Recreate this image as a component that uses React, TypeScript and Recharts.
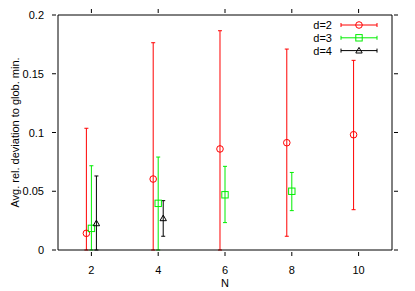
import React from 'react';
import { ComposedChart, Scatter, XAxis, YAxis, ErrorBar } from 'recharts';

const nValues = [2, 4, 6, 8, 10];
const xTicks = [2, 4, 6, 8, 10];
const yTicks = [0, 0.05, 0.1, 0.15, 0.2];
const yTickLabels = ['0', '0.05', '0.1', '0.15', '0.2'];

const d2Mean = [0.0142, 0.0604, 0.086, 0.0913, 0.0981];
const d2Low = [0, 0, 0, 0.0117, 0.0343];
const d2High = [0.1036, 0.1764, 0.1866, 0.171, 0.1614];

const d3N = [2, 4, 6, 8];
const d3Mean = [0.0184, 0.0397, 0.047, 0.05];
const d3Low = [0, 0, 0.0233, 0.0335];
const d3High = [0.0717, 0.0791, 0.0712, 0.066];

const d4N = [2, 4];
const d4Mean = [0.0227, 0.027];
const d4Low = [0, 0.0117];
const d4High = [0.063, 0.042];

const seriesNames = ['d=2', 'd=3', 'd=4'];
const RED = '#ff0000';
const GREEN = '#00ee00';
const BLACK = '#000000';
const FONT = 'Liberation Sans, Arial, Helvetica, sans-serif';

const build = (ns: number[], mean: number[], low: number[], high: number[], off: number) =>
  ns.map((n, i) => ({ x: n + off, y: mean[i], err: [mean[i] - low[i], high[i] - mean[i]] }));

const d2Data = build(nValues, d2Mean, d2Low, d2High, -0.15);
const d3Data = build(d3N, d3Mean, d3Low, d3High, 0);
const d4Data = build(d4N, d4Mean, d4Low, d4High, 0.15);

const CircleShape = (p: any) => (
  <circle cx={p.cx} cy={p.cy} r={3.3} fill="none" stroke={RED} strokeWidth={1} />
);
const SquareShape = (p: any) => (
  <rect x={p.cx - 3.2} y={p.cy - 3.2} width={6.4} height={6.4} fill="none" stroke={GREEN} strokeWidth={1} />
);
const TriShape = (p: any) => (
  <path d={`M${p.cx - 3.2},${p.cy + 2.4} L${p.cx + 3.2},${p.cy + 2.4} L${p.cx},${p.cy - 3.2} Z`} fill="none" stroke={BLACK} strokeWidth={1} />
);

const BottomTick = (p: any) => (
  <g>
    <line x1={p.x} x2={p.x} y1={p.y} y2={p.y - 4} stroke="#000" />
    <text x={p.x} y={p.y + 18} textAnchor="middle" fontSize={11} fontFamily={FONT} fill="#000">
      {p.payload.value}
    </text>
  </g>
);
const TopTick = (p: any) => (
  <line x1={p.x} x2={p.x} y1={p.y} y2={p.y + 4} stroke="#000" />
);
const LeftTick = (p: any) => {
  const idx = yTicks.indexOf(p.payload.value);
  return (
    <g>
      <line x1={p.x} x2={p.x + 4} y1={p.y} y2={p.y} stroke="#000" />
      <text x={p.x - 8} y={p.y + 4} textAnchor="end" fontSize={11} fontFamily={FONT} fill="#000">
        {idx >= 0 ? yTickLabels[idx] : p.payload.value}
      </text>
    </g>
  );
};
const RightTick = (p: any) => (
  <line x1={p.x} x2={p.x - 4} y1={p.y} y2={p.y} stroke="#000" />
);

const YLabel = (props: any) => {
  const vb = props.viewBox || { x: 0, y: 15, width: 58, height: 235 };
  const cx = vb.x + 15;
  const cy = vb.y + vb.height / 2;
  return (
    <text x={cx} y={cy} transform={`rotate(-90 ${cx} ${cy})`} textAnchor="middle" dominantBaseline="central" fontSize={11} fontFamily={FONT} fill="#000">
      Avg. rel. deviation to glob. min.
    </text>
  );
};

const legendColors = [RED, GREEN, BLACK];
const LegendBox = () => (
  <svg width={90} height={45} style={{ position: 'absolute', left: 300, top: 18, overflow: 'visible' }}>
    {seriesNames.map((name, i) => {
      const y = 7 + i * 12.8;
      const c = legendColors[i];
      const mx = 59;
      return (
        <g key={name}>
          <text x={32} y={y + 4} textAnchor="end" fontSize={11} fontFamily={FONT} fill="#000">{name}</text>
          <line x1={41} x2={77} y1={y} y2={y} stroke={c} />
          <line x1={41} x2={41} y1={y - 2} y2={y + 2} stroke={c} />
          <line x1={77} x2={77} y1={y - 2} y2={y + 2} stroke={c} />
          {i === 0 && <circle cx={mx} cy={y} r={3.3} fill="none" stroke={c} />}
          {i === 1 && <rect x={mx - 3.2} y={y - 3.2} width={6.4} height={6.4} fill="none" stroke={c} />}
          {i === 2 && <path d={`M${mx - 3.2},${y + 2.4} L${mx + 3.2},${y + 2.4} L${mx},${y - 3.2} Z`} fill="none" stroke={c} />}
        </g>
      );
    })}
  </svg>
);

export default function App() {
  return (
    <div style={{ position: 'absolute', left: 0, top: 0, width: 415, height: 291, background: '#fff' }}>
      <ComposedChart width={415} height={291} margin={{ top: 14, right: 22, left: 0, bottom: 0 }}>
        <XAxis
          xAxisId="b"
          type="number"
          dataKey="x"
          domain={[1, 11]}
          ticks={xTicks}
          orientation="bottom"
          height={41}
          tickLine={false}
          tickMargin={0}
          tick={<BottomTick />}
          axisLine={{ stroke: '#000' }}
          allowDataOverflow
          label={{ value: 'N', position: 'insideBottom', offset: 4, fill: '#000', fontSize: 11, fontFamily: FONT }}
        />
        <XAxis
          xAxisId="t"
          type="number"
          dataKey="x"
          domain={[1, 11]}
          ticks={xTicks}
          orientation="top"
          height={1}
          tickLine={false}
          tickMargin={0}
          tick={<TopTick />}
          axisLine={{ stroke: '#000' }}
          allowDataOverflow
        />
        <YAxis
          yAxisId="l"
          type="number"
          domain={[0, 0.2]}
          ticks={yTicks}
          width={58}
          tickLine={false}
          tickMargin={0}
          tick={<LeftTick />}
          axisLine={{ stroke: '#000' }}
          allowDataOverflow
          label={<YLabel />}
        />
        <YAxis
          yAxisId="r"
          orientation="right"
          type="number"
          domain={[0, 0.2]}
          ticks={yTicks}
          width={1}
          tickLine={false}
          tickMargin={0}
          tick={<RightTick />}
          axisLine={{ stroke: '#000' }}
          allowDataOverflow
        />
        <Scatter name="d=2" data={d2Data} dataKey="y" xAxisId="b" yAxisId="l" shape={<CircleShape />} fill={RED} isAnimationActive={false}>
          <ErrorBar dataKey="err" direction="y" width={2} stroke={RED} strokeWidth={1} isAnimationActive={false} />
        </Scatter>
        <Scatter name="d=3" data={d3Data} dataKey="y" xAxisId="b" yAxisId="l" shape={<SquareShape />} fill={GREEN} isAnimationActive={false}>
          <ErrorBar dataKey="err" direction="y" width={2} stroke={GREEN} strokeWidth={1} isAnimationActive={false} />
        </Scatter>
        <Scatter name="d=4" data={d4Data} dataKey="y" xAxisId="b" yAxisId="l" shape={<TriShape />} fill={BLACK} isAnimationActive={false}>
          <ErrorBar dataKey="err" direction="y" width={2} stroke={BLACK} strokeWidth={1} isAnimationActive={false} />
        </Scatter>
      </ComposedChart>
      <LegendBox />
    </div>
  );
}
